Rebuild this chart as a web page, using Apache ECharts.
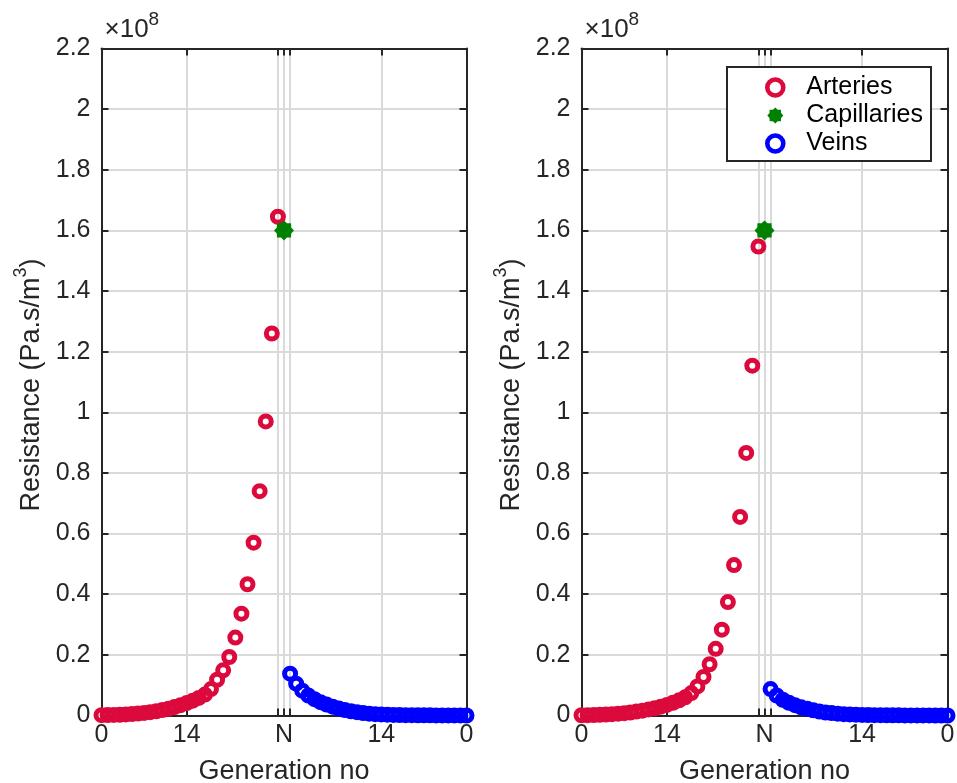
<!DOCTYPE html>
<html>
<head>
<meta charset="utf-8">
<script src="https://cdn.jsdelivr.net/npm/echarts@6/dist/echarts.min.js"></script>
<style>
  html, body { margin: 0; padding: 0; background: #fff; }
  #chart { width: 957px; height: 783px; }
</style>
</head>
<body>
<div id="chart"></div>
<script>
// Resistance per generation, in units of 1e8 Pa.s/m^3.
// Arteries run from generation 0 up to N-1, capillaries sit at N,
// veins run back down from N-1 to 0 on the right half of each axis.
const arteryPos = [0,1,2,3,4,5,6,7,8,9,10,11,12,13,14,15,16,17,18,19,20,21,22,23,24,25,26,27,28,29];
const capillaryPos = [30];
const veinPos = [31,32,33,34,35,36,37,38,39,40,41,42,43,44,45,46,47,48,49,50,51,52,53,54,55,56,57,58,59,60];

const arteriesA = [0.001, 0.0013, 0.0018, 0.0025, 0.0035, 0.005, 0.0065, 0.0085, 0.011, 0.014,
                   0.018, 0.022, 0.028, 0.034, 0.041, 0.049, 0.058, 0.069, 0.087, 0.118,
                   0.149, 0.193, 0.257, 0.336, 0.433, 0.57, 0.74, 0.97, 1.26, 1.645];
const capillariesA = [1.6];
const veinsA = [0.138, 0.105, 0.082, 0.066, 0.054, 0.044, 0.036, 0.029, 0.023, 0.018,
                0.014, 0.011, 0.008, 0.006, 0.0045, 0.0035, 0.0027, 0.002, 0.0016, 0.0012,
                0.001, 0.0008, 0.0006, 0.0005, 0.0004, 0.0003, 0.0003, 0.0002, 0.0002, 0.0001];

const arteriesB = [0.0008, 0.0011, 0.0016, 0.0023, 0.0032, 0.0045, 0.006, 0.0078, 0.010, 0.013,
                   0.016, 0.020, 0.024, 0.029, 0.035, 0.042, 0.050, 0.060, 0.074, 0.096,
                   0.127, 0.169, 0.22, 0.283, 0.374, 0.496, 0.655, 0.866, 1.154, 1.547];
const capillariesB = [1.6];
const veinsB = [0.087, 0.066, 0.052, 0.042, 0.034, 0.027, 0.022, 0.017, 0.013, 0.010,
                0.008, 0.006, 0.0045, 0.0035, 0.0027, 0.002, 0.0016, 0.0012, 0.001, 0.0008,
                0.0006, 0.0005, 0.0004, 0.0003, 0.0003, 0.0002, 0.0002, 0.0001, 0.0001, 0.0001];

const xTickPos = [0, 14, 29, 30, 31, 46, 60];
const xTickLabels = ['0', '14', '', 'N', '', '14', '0'];
const yMin = 0, yMax = 2.2, yStep = 0.2;

const RED = '#DC0A3C', GREEN = '#008000', BLUE = '#0000FF';
const INK = '#262626';
const GRIDLINE = '#DADADA';
const FONT = '"Liberation Sans", Arial, Helvetica, sans-serif';

// eight-armed asterisk used for the capillary marker
function asteriskPath() {
  const pts = [];
  for (let k = 0; k < 16; k++) {
    const a = k * Math.PI / 8;
    const r = k % 2 === 0 ? 10 : 7.8;
    pts.push((r * Math.cos(a)).toFixed(2) + ',' + (r * Math.sin(a)).toFixed(2));
  }
  return 'path://M' + pts.join('L') + 'Z';
}
const STAR = asteriskPath();

const zip = (xs, ys) => xs.map((x, i) => [x, ys[i]]);

const grids = [
  { left: 101.5, top: 48.5, width: 365, height: 667 },
  { left: 581.5, top: 48.5, width: 366, height: 667 }
];

const xAxes = [], yAxes = [];
grids.forEach((g, gi) => {
  xAxes.push({
    type: 'value', gridIndex: gi, position: 'bottom', min: 0, max: 60,
    name: 'Generation no', nameLocation: 'middle', nameGap: 43, nameMoveOverlap: false,
    nameTextStyle: { fontFamily: FONT, fontSize: 27, color: INK },
    axisLine: { show: true, onZero: false, lineStyle: { color: INK, width: 2 } },
    axisTick: { show: true, inside: true, length: 7, customValues: xTickPos, lineStyle: { color: INK, width: 2 } },
    axisLabel: {
      show: true, customValues: xTickPos, margin: 7, fontFamily: FONT, fontSize: 25, color: INK,
      formatter: v => xTickLabels[xTickPos.indexOf(Math.round(v))] || ''
    },
    splitLine: { show: true, lineStyle: { color: GRIDLINE, width: 2 } }
  });
  xAxes.push({
    type: 'value', gridIndex: gi, position: 'top', min: 0, max: 60,
    axisLine: { show: true, onZero: false, lineStyle: { color: INK, width: 2 } },
    axisTick: { show: true, inside: true, length: 7, customValues: xTickPos, lineStyle: { color: INK, width: 2 } },
    axisLabel: { show: false },
    splitLine: { show: false }
  });
  yAxes.push({
    type: 'value', gridIndex: gi, position: 'left', min: yMin, max: yMax, interval: yStep,
    name: '{a|Resistance (Pa.s/m}{b|3}{a|)}', nameLocation: 'middle', nameGap: 56, nameMoveOverlap: false,
    nameTextStyle: {
      color: INK, padding: [0, 6, 0, 0],
      rich: {
        a: { fontFamily: FONT, fontSize: 27, color: INK, lineHeight: 33, verticalAlign: 'bottom' },
        b: { fontFamily: FONT, fontSize: 18, color: INK, lineHeight: 33, verticalAlign: 'top' }
      }
    },
    axisLine: { show: true, onZero: false, lineStyle: { color: INK, width: 2 } },
    axisTick: { show: true, inside: true, length: 7, lineStyle: { color: INK, width: 2 } },
    axisLabel: {
      show: true, margin: 11, fontFamily: FONT, fontSize: 25, color: INK,
      formatter: v => String(parseFloat(v.toFixed(1)))
    },
    splitLine: { show: true, lineStyle: { color: GRIDLINE, width: 2 } }
  });
  yAxes.push({
    type: 'value', gridIndex: gi, position: 'right', min: yMin, max: yMax, interval: yStep,
    axisLine: { show: true, onZero: false, lineStyle: { color: INK, width: 2 } },
    axisTick: { show: true, inside: true, length: 7, lineStyle: { color: INK, width: 2 } },
    axisLabel: { show: false },
    splitLine: { show: false }
  });
});

const ringStyle = c => ({ color: 'rgba(255,255,255,0)', borderColor: c, borderWidth: 5, opacity: 1 });

function panelSeries(gi, arteries, capillaries, veins) {
  const xi = gi * 2, yi = gi * 2;
  return [
    { name: 'Arteries', type: 'scatter', xAxisIndex: xi, yAxisIndex: yi, clip: false,
      symbol: 'circle', symbolSize: 11, itemStyle: ringStyle(RED),
      emphasis: { disabled: true }, data: zip(arteryPos, arteries), z: 3 },
    { name: 'Capillaries', type: 'scatter', xAxisIndex: xi, yAxisIndex: yi, clip: false,
      symbol: STAR, symbolSize: 20, itemStyle: { color: GREEN, opacity: 1 },
      emphasis: { disabled: true }, data: zip(capillaryPos, capillaries), z: 4 },
    { name: 'Veins', type: 'scatter', xAxisIndex: xi, yAxisIndex: yi, clip: false,
      symbol: 'circle', symbolSize: 11, itemStyle: ringStyle(BLUE),
      emphasis: { disabled: true }, data: zip(veinPos, veins), z: 5 }
  ];
}

const chart = echarts.init(document.getElementById('chart'), null, { renderer: 'canvas' });

chart.setOption({
  animation: false,
  backgroundColor: '#fff',
  grid: grids.map(g => Object.assign({ outerBoundsMode: 'none', containLabel: false }, g)),
  xAxis: xAxes,
  yAxis: yAxes,
  legend: {
    orient: 'vertical', left: 727, top: 67,
    padding: [8, 8, 5, 38], itemGap: 3,
    itemWidth: 16, itemHeight: 16,
    backgroundColor: '#fff', borderColor: INK, borderWidth: 2, borderRadius: 0,
    textStyle: { fontFamily: FONT, fontSize: 25, color: '#000', lineHeight: 23, padding: [0, 0, 0, 18] },
    data: [
      { name: 'Arteries', icon: 'circle', itemStyle: { color: 'rgba(255,255,255,0)', borderColor: RED, borderWidth: 4.6, opacity: 1 } },
      { name: 'Capillaries', icon: STAR, itemStyle: { color: GREEN, borderWidth: 0, opacity: 1 } },
      { name: 'Veins', icon: 'circle', itemStyle: { color: 'rgba(255,255,255,0)', borderColor: BLUE, borderWidth: 4.6, opacity: 1 } }
    ],
    selectedMode: false
  },
  series: [].concat(
    panelSeries(0, arteriesA, capillariesA, veinsA),
    panelSeries(1, arteriesB, capillariesB, veinsB)
  )
});

// "×10^8" scale tag placed through the axis scale, just above each grid top
const expTags = grids.map((g, gi) => {
  const p = chart.convertToPixel({ xAxisIndex: gi * 2, yAxisIndex: gi * 2 }, [0, yMax]);
  return {
    type: 'text', left: p[0] + 3, top: p[1] - 38, z: 10,
    style: {
      text: '{a|×10}{b|8}', fill: INK,
      rich: {
        a: { fontFamily: FONT, fontSize: 26, fill: INK, lineHeight: 32, verticalAlign: 'bottom' },
        b: { fontFamily: FONT, fontSize: 19, fill: INK, lineHeight: 32, verticalAlign: 'top' }
      }
    }
  };
});
chart.setOption({ graphic: expTags });
</script>
</body>
</html>
